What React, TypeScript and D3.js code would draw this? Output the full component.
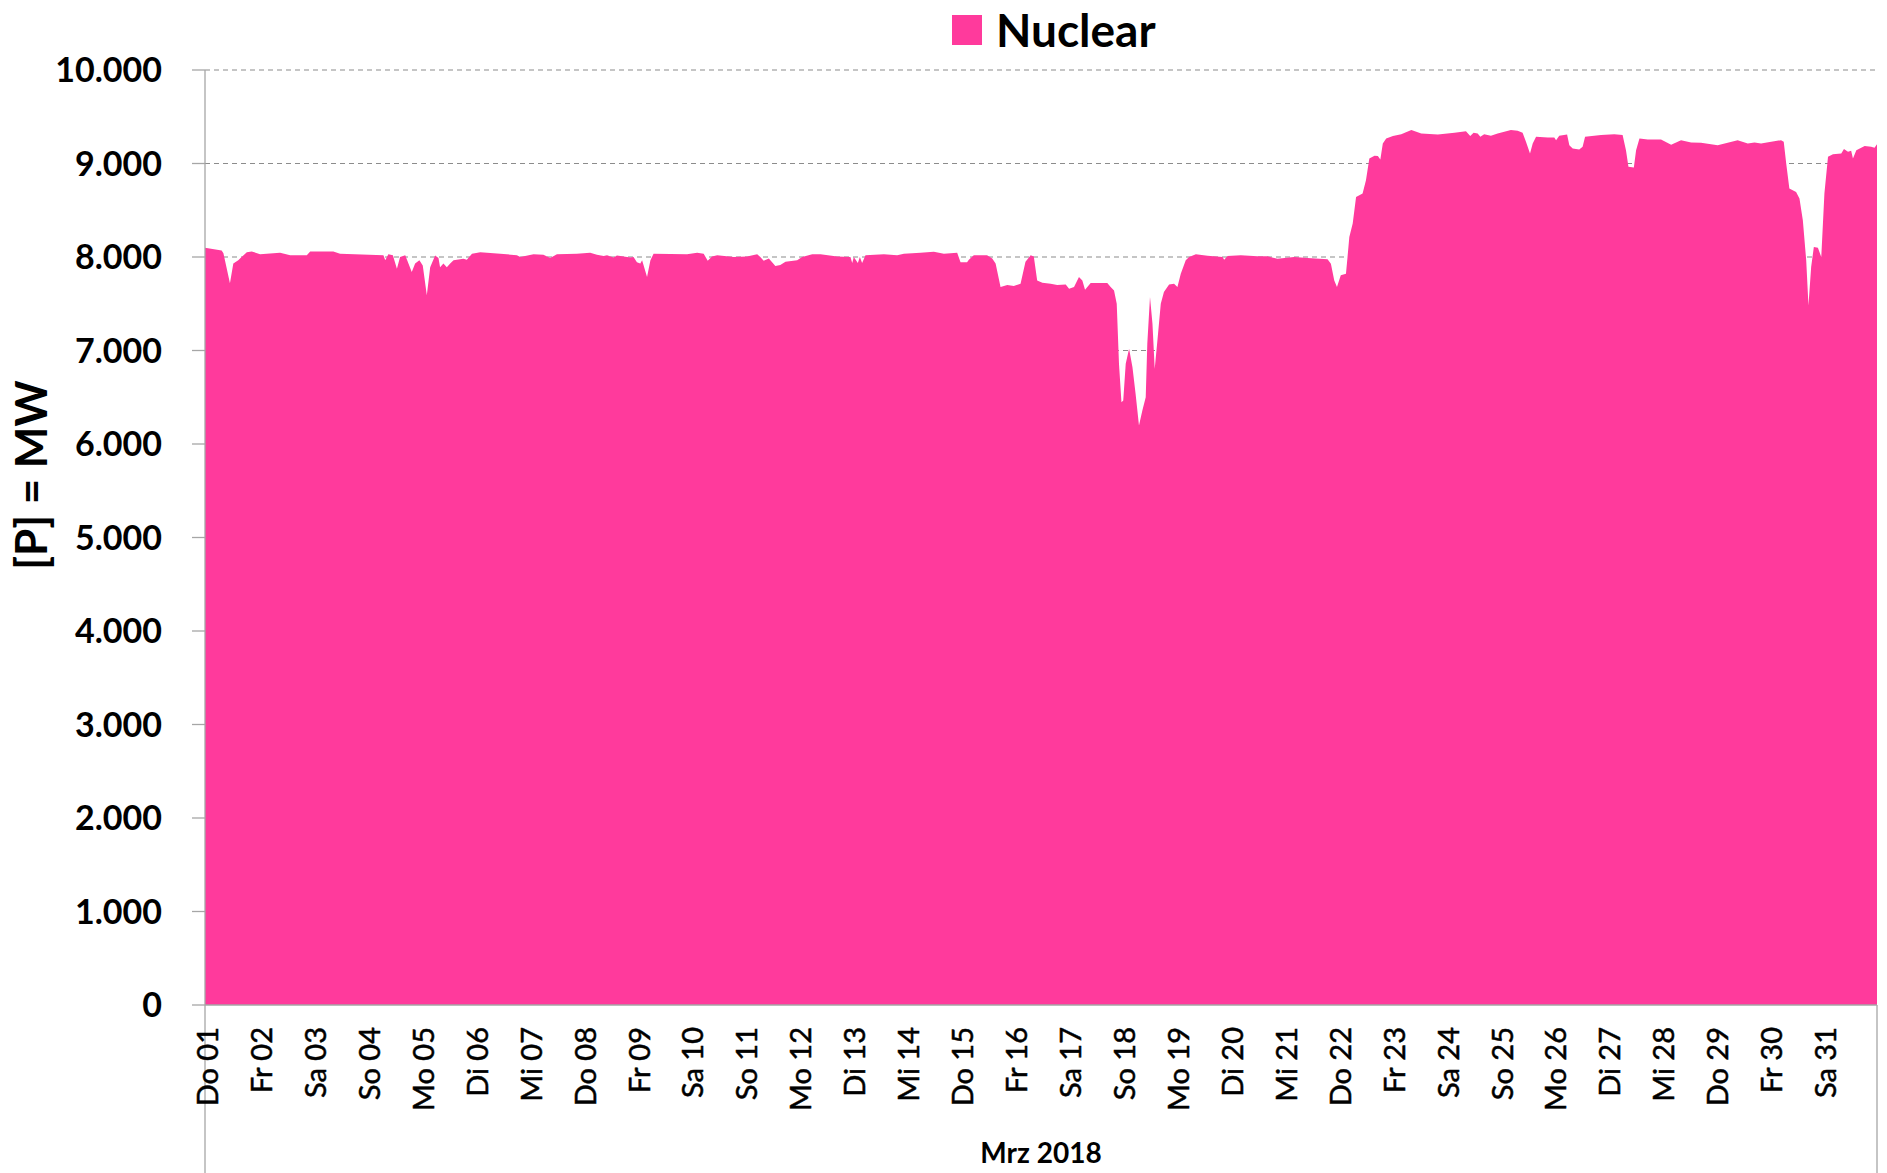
import React, { useEffect } from 'react';
import * as d3 from 'd3';

// hours since 01.03.2018 00:00 and nuclear feed-in in MW
const hours = [
  0, 7.4, 8.2, 11.1, 12.6, 14.8, 16.3, 18.6, 20.8, 24.5, 33.4, 37.9, 45.3, 46.8, 57.1, 60.1,
  79.4, 80.2, 81.6, 83.6, 85.4, 86.8, 89.1, 92.0, 93.5, 95.4, 96.9, 98.7, 100.2, 102.4, 103.9,
  104.6, 106.1, 107.6, 109.1, 110.6, 115.0, 116.5, 118.8, 122.5, 131.4, 138.8, 140.3, 146.2,
  150.6, 153.6, 156.6, 165.5, 171.4, 174.4, 177.4, 178.9, 181.8, 183.3, 189.3,
  190.7, 192.2, 193.7, 194.5, 196.7, 198.2, 199.6, 214.5, 219.0, 221.9, 223.7, 225.6, 227.9,
  235.3, 241.2, 245.7, 247.1, 248.6, 250.9, 253.8, 256.0, 258.3, 263.5, 265.7, 270.2, 273.9,
  281.3, 287.2, 288.0, 288.7, 290.5, 291.4, 292.4, 293.9, 302.1, 308.0, 311.0, 318.4, 324.3,
  328.8, 334.7, 336.2, 339.1, 339.9, 342.1, 348.0, 350.3, 351.8, 354.0, 357.0, 359.9, 362.9,
  365.1, 367.4, 368.8, 370.3, 372.6, 376.3,
  379.2, 383.0, 384.5, 386.7, 388.9, 390.4, 391.6, 394.1, 401.5, 403.0, 404.5, 405.7, 406.7,
  407.8, 408.6, 409.7, 411.2, 412.7, 414.1, 415.6, 417.1, 418.6, 419.3, 420.5, 421.6, 422.6,
  423.8, 425.3, 426.7, 429.0, 431.2, 432.7, 434.2, 436.4, 437.9, 440.9, 446.1, 452.8, 453.5,
  455.0, 460.9, 468.3, 472.8, 477.2, 484.6, 490.6, 499.5, 501.0, 502.5, 503.7, 505.4, 507.7,
  508.4, 509.2, 510.7, 512.2, 515.1, 516.6, 518.1, 520.4, 521.9, 523.0, 524.1, 525.6, 528.6,
  532.3, 536.8, 539.0, 541.2, 548.6, 556.0, 561.1,
  563.0, 564.5, 566.3, 567.5, 569.2, 572.2, 575.2, 581.1, 584.1, 586.3, 587.8, 589.6, 590.8,
  592.3, 597.5, 600.4, 601.2, 602.6, 606.1, 607.1, 608.6, 611.5, 613.0, 614.1, 621.2, 627.1,
  630.8, 632.3, 633.4, 635.8, 636.8, 638.3, 642.0, 647.9, 652.4, 656.8, 661.3, 665.7, 673.1,
  682.0, 686.5, 689.5, 692.4, 701.3, 702.5, 703.6, 705.0, 708.0, 709.5, 711.0, 712.5, 713.5,
  714.7, 715.9, 717.7, 719.2, 720.6, 722.2, 724.4, 728.1, 729.3, 731.1, 732.5, 733.3, 734.8,
  738.5, 741.4, 742.9, 744,
];

const nuclearMW = [
  8100, 8070, 8040, 7720, 7930, 7965, 8000, 8050, 8060, 8030, 8045, 8020, 8020, 8060, 8060, 8035,
  8020, 7965, 8030, 8020, 7875, 8000, 8020, 7840, 7930, 7965, 7910, 7590, 7890, 8015, 7990,
  7890, 7930, 7890, 7930, 7965, 7980, 7970, 8035, 8050, 8035, 8020, 8000, 8030,
  8025, 7990, 8030, 8035, 8045, 8025, 8010, 8020, 7995, 8015, 7995,
  8000, 7945, 7930, 7965, 7786, 7965, 8035, 8030, 8045, 8035, 7960, 8005, 8020,
  8000, 8005, 8030, 8000, 7960, 7985, 7905, 7915, 7950, 7965, 8000, 8030, 8030,
  8005, 8000, 7935, 8000, 7935, 8000, 7935, 8020, 8030, 8020, 8035, 8045, 8055,
  8035, 8045, 7945, 7945, 7970, 8020, 8020, 7985, 7930, 7680, 7700, 7690, 7715,
  7950, 8020, 8005, 7750, 7725, 7715,
  7700, 7707, 7661, 7680, 7786, 7750, 7650, 7721, 7721, 7680, 7643, 7500, 6857,
  6447, 6465, 6857, 7018, 6820, 6536, 6197, 6357, 6500, 7071, 7571, 7286, 6804,
  7107, 7500, 7625, 7707, 7714, 7679, 7821, 7964, 8000, 8029, 8014, 8000, 7971,
  8011, 8018, 8007, 8007, 7982, 8000, 7989, 7975, 7929, 7750, 7679, 7804, 7821,
  8000, 8214, 8357, 8643, 8679, 8821, 9054, 9082, 9079, 9043, 9214, 9268, 9293,
  9314, 9357, 9339, 9321, 9311, 9329, 9346,
  9293, 9329, 9321, 9286, 9314, 9296, 9321, 9357, 9350, 9329, 9232, 9107, 9214,
  9286, 9279, 9279, 9250, 9296, 9311, 9196, 9161, 9150, 9179, 9286, 9304, 9314,
  9304, 9143, 8964, 8957, 9143, 9268, 9257, 9257, 9200, 9250, 9225, 9221, 9196,
  9250, 9214, 9225, 9214, 9250, 9232, 9000, 8732, 8696, 8625, 8393, 7964, 7482,
  7893, 8107, 8100, 8000, 8679, 9071, 9100, 9107, 9154, 9125, 9136, 9054, 9143,
  9186, 9179, 9168, 9207,
];

const dayLabels = [
  'Do 01', 'Fr 02', 'Sa 03', 'So 04', 'Mo 05', 'Di 06', 'Mi 07', 'Do 08', 'Fr 09', 'Sa 10',
  'So 11', 'Mo 12', 'Di 13', 'Mi 14', 'Do 15', 'Fr 16', 'Sa 17', 'So 18', 'Mo 19', 'Di 20',
  'Mi 21', 'Do 22', 'Fr 23', 'Sa 24', 'So 25', 'Mo 26', 'Di 27', 'Mi 28', 'Do 29', 'Fr 30',
  'Sa 31',
];

const yTicks = [0, 1000, 2000, 3000, 4000, 5000, 6000, 7000, 8000, 9000, 10000];

const seriesName = 'Nuclear';
const monthLabel = 'Mrz 2018';
const yTitle = '[P]  = MW';

const W = 1887;
const H = 1173;
const left = 205;
const right = 1877;
const top = 70;
const bottom = 1005;
const pink = '#ff3a9c';
const axisGray = '#a6a6a6';
const font = 'Lato, "Open Sans", sans-serif';

const start = Date.UTC(2018, 2, 1);
const end = Date.UTC(2018, 3, 1);

const de = d3.formatLocale({ decimal: ',', thousands: '.', grouping: [3], currency: ['', ' €'] });
const fmt = de.format(',');

const App = () => {
  useEffect(() => {
    document.body.style.margin = '0';
  }, []);

  const x = d3.scaleUtc().domain([new Date(start), new Date(end)]).range([left, right]);
  const y = d3.scaleLinear().domain([0, 10000]).range([bottom, top]);

  const data = hours.map((h, i) => ({ t: new Date(start + h * 3600e3), v: nuclearMW[i] }));
  const area = d3
    .area<{ t: Date; v: number }>()
    .x((d) => x(d.t))
    .y0(y(0))
    .y1((d) => y(d.v));

  const days = d3.utcDay.range(new Date(start), new Date(end));

  return (
    <svg width={W} height={H} style={{ display: 'block', background: '#fff' }}>
      {/* grid */}
      {yTicks.slice(1).map((t) => (
        <line key={t} x1={left} x2={right} y1={y(t)} y2={y(t)}
          stroke="#8c8c8c" strokeWidth={1.2} strokeDasharray="5,4" />
      ))}

      <path d={area(data) || ''} fill={pink} />

      {/* y axis */}
      <line x1={left} x2={left} y1={top} y2={H} stroke={axisGray} strokeWidth={1.3} />
      {yTicks.map((t) => (
        <g key={t}>
          <line x1={left - 13} x2={left} y1={y(t)} y2={y(t)} stroke={axisGray} strokeWidth={1.3} />
          <text x={162} y={y(t)} dy="0.36em" textAnchor="end"
            fontFamily={font} fontWeight={700} fontSize={34} fill="#000">
            {fmt(t)}
          </text>
        </g>
      ))}

      {/* x axis */}
      <line x1={left} x2={right} y1={bottom} y2={bottom} stroke={axisGray} strokeWidth={1.3} />
      <line x1={right} x2={right} y1={bottom} y2={H} stroke={axisGray} strokeWidth={1.3} />
      {days.map((d, i) => (
        <text key={i} transform={`translate(${x(d)},${1027}) rotate(-90)`} dy="0.45em"
          textAnchor="end" fontFamily={font} fontSize={29} fill="#000"
          stroke="#000" strokeWidth={0.5}>
          {dayLabels[i]}
        </text>
      ))}
      <text x={(left + right) / 2} y={1163} textAnchor="middle"
        fontFamily={font} fontWeight={700} fontSize={28} fill="#000">
        {monthLabel}
      </text>

      {/* y title */}
      <text transform={`translate(${47},${475}) rotate(-90)`} textAnchor="middle"
        fontFamily={font} fontWeight={700} fontSize={44} fill="#000">
        {yTitle}
      </text>

      {/* legend */}
      <rect x={952} y={15} width={30} height={30} fill={pink} />
      <text x={996} y={47} fontFamily={font} fontWeight={700} fontSize={46} fill="#000">
        {seriesName}
      </text>
    </svg>
  );
};

export default App;
